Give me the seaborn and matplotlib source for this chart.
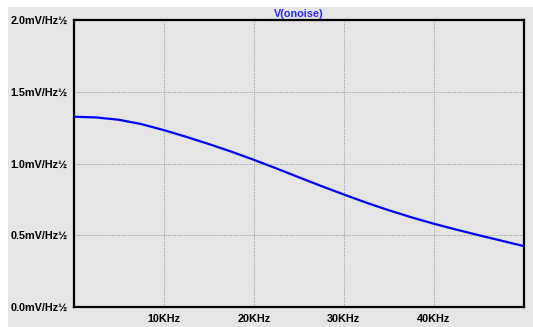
import matplotlib
matplotlib.use("Agg")
import matplotlib.pyplot as plt
import seaborn as sns
import pandas as pd
from matplotlib.patches import Rectangle

# Data (frequency in Hz, noise in mV/Hz^1/2)
freq_hz = [0, 2500, 5000, 7500, 10000, 12500, 15000, 17500, 20000, 22500, 25000,
           27500, 30000, 32500, 35000, 37500, 40000, 42500, 45000, 47500, 50000]
noise_mv = [1.326, 1.321, 1.305, 1.275, 1.233, 1.186, 1.136, 1.083, 1.026, 0.966, 0.904,
            0.843, 0.784, 0.727, 0.674, 0.625, 0.580, 0.539, 0.500, 0.462, 0.424]
x_ticks = [0, 10000, 20000, 30000, 40000]
x_tick_labels = ["", "10KHz", "20KHz", "30KHz", "40KHz"]
y_ticks = [0.0, 0.5, 1.0, 1.5, 2.0]
y_tick_labels = ["0.0mV/Hz½", "0.5mV/Hz½", "1.0mV/Hz½", "1.5mV/Hz½", "2.0mV/Hz½"]
title = "V(onoise)"

bg = "#e5e5e5"
sns.set_theme(style="white")
plt.rcParams['font.family'] = ['Liberation Sans', 'DejaVu Sans']

fig = plt.figure(figsize=(5.33, 3.27), dpi=100, facecolor="white")
fig.patches.append(Rectangle((8/533, 0), 1 - 8/533, 1 - 7/327, transform=fig.transFigure,
                             facecolor=bg, edgecolor="none", zorder=-10))
ax = fig.add_axes([73.5/533, 20/327, (524-73.5)/533, (307-20)/327])
ax.set_facecolor(bg)

df = pd.DataFrame({"f": freq_hz, "v": noise_mv})
sns.lineplot(data=df, x="f", y="v", ax=ax, color="#0000ff", linewidth=1.6, zorder=3)

ax.set_xlim(0, 50000)
ax.set_ylim(0, 2.0)
ax.set_xticks(x_ticks)
ax.set_xticklabels(x_tick_labels)
ax.set_yticks(y_ticks)
ax.set_yticklabels(y_tick_labels)
ax.set_xlabel("")
ax.set_ylabel("")

ax.grid(True, color="#a0a0a0", linestyle=(0, (1.2, 1.2)), linewidth=0.7, zorder=1)
for s in ax.spines.values():
    s.set_visible(True)
    s.set_color("black")
    s.set_linewidth(1.6)

ax.tick_params(axis="both", which="major", direction="out", length=4, width=1.4,
               color="black", labelsize=7.8, labelcolor="black", pad=1)
ax.tick_params(axis="y", pad=0)
for lab in ax.get_xticklabels() + ax.get_yticklabels():
    lab.set_fontweight("bold")

ax.set_title(title, color="#2828ff", fontsize=7.8, fontweight="bold", pad=2)

fig.savefig("out.png", dpi=100, facecolor="white")
